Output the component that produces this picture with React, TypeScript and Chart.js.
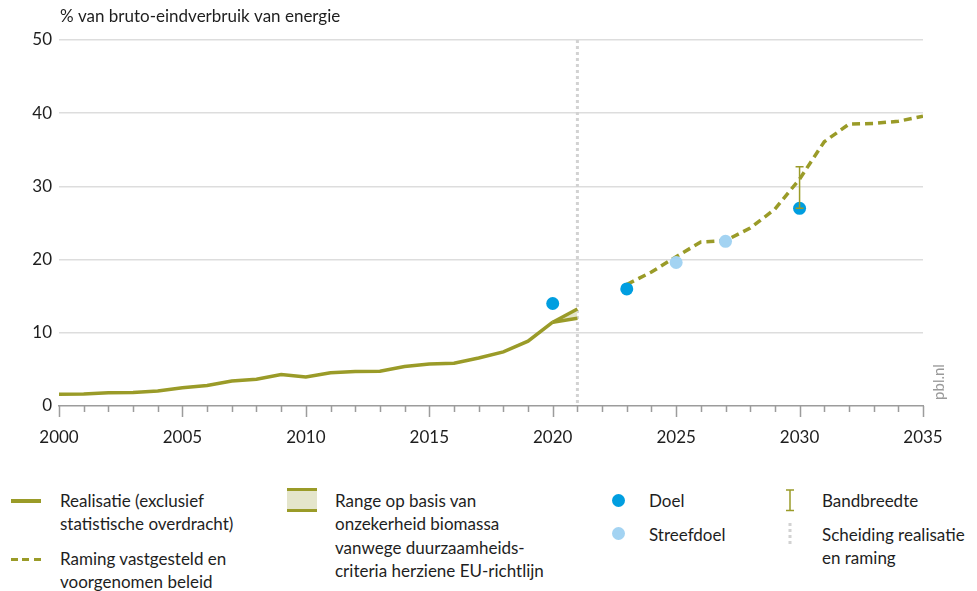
import React, { useEffect, useRef } from "react";
import { Chart, registerables } from "chart.js";

Chart.register(...registerables);

// ---- data ----
const realisatieYears = [2000, 2001, 2002, 2003, 2004, 2005, 2006, 2007, 2008, 2009, 2010, 2011, 2012, 2013, 2014, 2015, 2016, 2017, 2018, 2019, 2020];
const realisatieValues = [1.6, 1.65, 1.8, 1.85, 2.05, 2.5, 2.8, 3.4, 3.65, 4.3, 3.95, 4.55, 4.7, 4.75, 5.4, 5.75, 5.85, 6.55, 7.4, 8.85, 11.45];
const rangeYears = [2020, 2021];
const rangeUpper = [11.45, 13.25];
const rangeLower = [11.45, 12.0];
const ramingYears = [2023, 2024, 2025, 2026, 2027, 2028, 2029, 2030, 2031, 2032, 2033, 2034, 2035];
const ramingValues = [16.6, 18.3, 20.4, 22.4, 22.6, 24.3, 26.9, 31.0, 36.1, 38.5, 38.6, 38.9, 39.6];
const doelYears = [2020, 2023, 2030];
const doelValues = [14.0, 16.0, 27.0];
const streefYears = [2025, 2027];
const streefValues = [19.6, 22.5];
const bandYear = 2030;
const bandLow = 27.0;
const bandHigh = 32.7;
const separatorYear = 2021;
const xMin = 2000;
const xMax = 2035;
const yMin = 0;
const yMax = 50;

const titleText = "% van bruto-eindverbruik van energie";
const sourceText = "pbl.nl";

const OLIVE = "#9a9b28";
const RANGE_FILL = "#e4e5cb";
const BLUE = "#009ee0";
const LIGHTBLUE = "#a3d3f2";
const FONT = "Lato";
const TEXT = "#1e1e1e";

const toXY = (xs: number[], ys: number[]) => xs.map((x, i) => ({ x, y: ys[i] }));

const overlayPlugin = {
  id: "overlay",
  beforeDatasetsDraw(chart: any) {
    const { ctx, chartArea, scales } = chart;
    const x = scales.x;
    const sx = x.getPixelForValue(separatorYear);
    ctx.save();
    ctx.strokeStyle = "#d2d2d2";
    ctx.lineWidth = 3;
    ctx.setLineDash([3, 3]);
    ctx.beginPath();
    ctx.moveTo(sx, chartArea.top);
    ctx.lineTo(sx, chartArea.bottom);
    ctx.stroke();
    ctx.restore();
  },
  afterDatasetsDraw(chart: any) {
    const { ctx, scales } = chart;
    const bx = scales.x.getPixelForValue(bandYear);
    const yl = scales.y.getPixelForValue(bandLow);
    const yh = scales.y.getPixelForValue(bandHigh);
    ctx.save();
    ctx.strokeStyle = OLIVE;
    ctx.lineWidth = 1.5;
    ctx.beginPath();
    ctx.moveTo(bx, yl);
    ctx.lineTo(bx, yh);
    ctx.moveTo(bx - 4, yh);
    ctx.lineTo(bx + 4, yh);
    ctx.moveTo(bx - 4, yl);
    ctx.lineTo(bx + 4, yl);
    ctx.stroke();
    ctx.restore();
  },
  afterDraw(chart: any) {
    const { ctx, chartArea, scales } = chart;
    const x = scales.x;
    ctx.save();
    ctx.strokeStyle = "#9c9c9c";
    ctx.lineWidth = 1.5;
    ctx.beginPath();
    x.ticks.forEach((t: any) => {
      const px = Math.round(x.getPixelForValue(t.value)) + 0.5;
      const len = t.value % 5 === 0 ? 11 : 6;
      ctx.moveTo(px, chartArea.bottom);
      ctx.lineTo(px, chartArea.bottom + len);
    });
    ctx.stroke();
    ctx.fillStyle = TEXT;
    ctx.font = `17px ${FONT}`;
    ctx.textBaseline = "middle";
    ctx.textAlign = "left";
    ctx.fillText(titleText, 52, 9);
    ctx.translate(931, 374);
    ctx.rotate(-Math.PI / 2);
    ctx.textAlign = "center";
    ctx.fillStyle = "#9a9a9a";
    ctx.font = `15px ${FONT}`;
    ctx.fillText(sourceText, 0, 0);
    ctx.restore();
  },
};

const legendText: React.CSSProperties = {
  position: "absolute",
  fontFamily: FONT,
  fontSize: 17,
  lineHeight: "23.5px",
  color: TEXT,
  whiteSpace: "nowrap",
};

export default function App() {
  const ref = useRef<HTMLCanvasElement>(null);

  useEffect(() => {
    if (!ref.current) return;
    const chart = new Chart(ref.current, {
      type: "line",
      data: {
        datasets: [
          {
            label: "Doel",
            data: toXY(doelYears, doelValues),
            showLine: false,
            pointRadius: 6.5,
            pointBackgroundColor: BLUE,
            pointBorderWidth: 0,
            order: 0,
          },
          {
            label: "Streefdoel",
            data: toXY(streefYears, streefValues),
            showLine: false,
            pointRadius: 6.5,
            pointBackgroundColor: LIGHTBLUE,
            pointBorderWidth: 0,
            order: 0,
          },
          {
            label: "Realisatie",
            data: toXY(realisatieYears, realisatieValues),
            borderColor: OLIVE,
            borderWidth: 3.5,
            pointRadius: 0,
            tension: 0,
            fill: false,
            order: 1,
          },
          {
            label: "Range boven",
            data: toXY(rangeYears, rangeUpper),
            borderColor: OLIVE,
            borderWidth: 3.5,
            pointRadius: 0,
            tension: 0,
            fill: false,
            order: 1,
          },
          {
            label: "Range onder",
            data: toXY(rangeYears, rangeLower),
            borderColor: OLIVE,
            backgroundColor: RANGE_FILL,
            borderWidth: 3.5,
            pointRadius: 0,
            tension: 0,
            fill: "-1",
            order: 1,
          },
          {
            label: "Raming",
            data: toXY(ramingYears, ramingValues),
            borderColor: OLIVE,
            borderWidth: 3.5,
            borderDash: [8, 5],
            pointRadius: 0,
            tension: 0,
            fill: false,
            order: 1,
          },
        ],
      },
      options: {
        animation: false,
        responsive: false,
        maintainAspectRatio: false,
        layout: { padding: { top: 32, right: 46, left: 0, bottom: 0 } },
        plugins: {
          legend: { display: false },
          tooltip: { enabled: false },
        },
        scales: {
          x: {
            type: "linear",
            min: xMin,
            max: xMax,
            afterFit: (s: any) => {
              s.height = 72;
            },
            ticks: {
              stepSize: 1,
              autoSkip: false,
              maxRotation: 0,
              padding: 21,
              color: TEXT,
              font: { family: FONT, size: 17 },
              callback: (v: any) => (Number(v) % 5 === 0 ? String(v) : ""),
            },
            grid: { display: false, drawTicks: false },
            border: { display: true, color: "#9c9c9c", width: 1.5 },
          },
          y: {
            min: yMin,
            max: yMax,
            afterFit: (s: any) => {
              s.width = 51;
            },
            ticks: {
              stepSize: 10,
              padding: 7,
              color: TEXT,
              font: { family: FONT, size: 17 },
              callback: (v: any) => String(v),
            },
            grid: {
              drawTicks: false,
              color: (c: any) => (c.tick && c.tick.value === 0 ? "rgba(0,0,0,0)" : "#dddddd"),
              lineWidth: 1.5,
            },
            border: { display: false },
          },
        },
      },
      plugins: [overlayPlugin],
    });
    return () => chart.destroy();
  }, []);

  return (
    <div style={{ position: "relative", width: 961, height: 583 }}>
      <canvas ref={ref} width={961} height={470} style={{ display: "block" }} />
      {/* column 1 */}
      <div style={{ position: "absolute", left: 3, top: 491, width: 30, height: 3.5, background: OLIVE }} />
      <div style={{ ...legendText, left: 52, top: 480.5 }}>
        Realisatie (exclusief
        <br />
        statistische overdracht)
      </div>
      <div style={{ position: "absolute", left: 3, top: 549.5, width: 30, height: 3.5, backgroundImage: `repeating-linear-gradient(to right, ${OLIVE} 0 7px, transparent 7px 11.5px)` }} />
      <div style={{ ...legendText, left: 52, top: 538.5 }}>
        Raming vastgesteld en
        <br />
        voorgenomen beleid
      </div>
      {/* column 2 */}
      <div style={{ position: "absolute", left: 279, top: 480, width: 30, height: 24, background: RANGE_FILL, borderTop: `3px solid ${OLIVE}`, borderBottom: `3px solid ${OLIVE}`, boxSizing: "border-box" }} />
      <div style={{ ...legendText, left: 327, top: 480.5 }}>
        Range op basis van
        <br />
        onzekerheid biomassa
        <br />
        vanwege duurzaamheids-
        <br />
        criteria herziene EU-richtlijn
      </div>
      {/* column 3 */}
      <div style={{ position: "absolute", left: 603.5, top: 486, width: 13, height: 13, borderRadius: "50%", background: BLUE }} />
      <div style={{ ...legendText, left: 641, top: 480.5 }}>Doel</div>
      <div style={{ position: "absolute", left: 603.5, top: 518.5, width: 13, height: 13, borderRadius: "50%", background: LIGHTBLUE }} />
      <div style={{ ...legendText, left: 641, top: 514.5 }}>Streefdoel</div>
      {/* column 4 */}
      <svg style={{ position: "absolute", left: 776, top: 481 }} width={12} height={23}>
        <line x1={6} y1={1} x2={6} y2={21.5} stroke={OLIVE} strokeWidth={1.5} />
        <line x1={2} y1={1} x2={10} y2={1} stroke={OLIVE} strokeWidth={1.5} />
        <line x1={2} y1={21.5} x2={10} y2={21.5} stroke={OLIVE} strokeWidth={1.5} />
      </svg>
      <div style={{ ...legendText, left: 814, top: 480.5 }}>Bandbreedte</div>
      <svg style={{ position: "absolute", left: 776, top: 514 }} width={12} height={24}>
        <line x1={6} y1={1} x2={6} y2={23} stroke="#d2d2d2" strokeWidth={3} strokeDasharray="3 3" />
      </svg>
      <div style={{ ...legendText, left: 814, top: 514.5 }}>
        Scheiding realisatie
        <br />
        en raming
      </div>
    </div>
  );
}
